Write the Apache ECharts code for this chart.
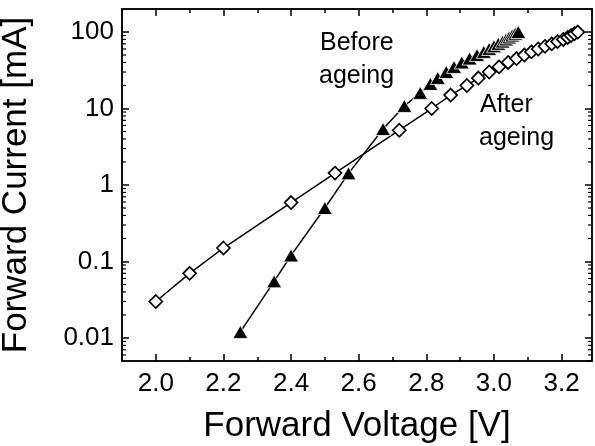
<!DOCTYPE html>
<html>
<head>
<meta charset="utf-8">
<script src="https://cdn.jsdelivr.net/npm/echarts@6/dist/echarts.min.js"></script>
<style>
  html, body { margin: 0; padding: 0; background: #fff; }
  #chart { width: 595px; height: 446px; }
</style>
</head>
<body>
<div id="chart"></div>
<script>
// Forward I-V characteristics of the LED before and after ageing
var beforeVoltage = [2.25, 2.35, 2.40, 2.50, 2.57, 2.672, 2.735, 2.782, 2.812, 2.834, 2.859, 2.882, 2.905, 2.928, 2.950, 2.970, 2.986, 3.000, 3.013, 3.026, 3.036, 3.045, 3.054, 3.063, 3.072];
var beforeCurrent = [0.012, 0.055, 0.12, 0.5, 1.42, 5.4, 10.8, 16, 21, 25, 30, 35, 40, 45, 50, 55, 60, 65, 70, 75, 80, 85, 90, 95, 100];

var afterVoltage = [2.0, 2.1, 2.2, 2.4, 2.53, 2.72, 2.816, 2.872, 2.920, 2.954, 2.986, 3.015, 3.042, 3.067, 3.090, 3.111, 3.131, 3.151, 3.171, 3.188, 3.205, 3.218, 3.228, 3.238, 3.248];
var afterCurrent = [0.03, 0.07, 0.15, 0.59, 1.43, 5.2, 10, 15, 20, 25, 30, 35, 40, 45, 50, 55, 60, 65, 70, 75, 80, 85, 90, 95, 100];

// Axis ranges
var X_MIN = 1.9, X_MAX = 3.29;
var Y_MIN = 0.005, Y_MAX = 200;

// Log-axis minor tick positions (2..9 within each decade)
var yMinorTicks = [0.006, 0.007, 0.008, 0.009,
  0.02, 0.03, 0.04, 0.05, 0.06, 0.07, 0.08, 0.09,
  0.2, 0.3, 0.4, 0.5, 0.6, 0.7, 0.8, 0.9,
  2, 3, 4, 5, 6, 7, 8, 9,
  20, 30, 40, 50, 60, 70, 80, 90];

var FONT = '"Liberation Sans", Arial, Helvetica, sans-serif';

function pairs(xs, ys) {
  return xs.map(function (x, i) { return [x, ys[i]]; });
}

var chart = echarts.init(document.getElementById('chart'), null, { renderer: 'canvas' });

var lineStyleAxis = { color: '#000', width: 1.5 };

function xAxisBase(extra) {
  return Object.assign({
    type: 'value',
    min: X_MIN,
    max: X_MAX,
    splitLine: { show: false },
    axisLine: { show: true, onZero: false, lineStyle: lineStyleAxis },
    axisLabel: { show: false }
  }, extra);
}

function yAxisBase(extra) {
  return Object.assign({
    type: 'log',
    logBase: 10,
    min: Y_MIN,
    max: Y_MAX,
    splitLine: { show: false },
    axisLine: { show: true, onZero: false, lineStyle: lineStyleAxis },
    axisLabel: { show: false }
  }, extra);
}

var option = {
  animation: false,
  backgroundColor: '#fff',
  textStyle: { fontFamily: FONT },
  grid: {
    left: 122, right: 3, top: 9, bottom: 85,
    outerBoundsMode: 'none',
    show: true, borderColor: '#000', borderWidth: 1.5, containLabel: false
  },
  xAxis: [
    // bottom axis with labels and major ticks
    xAxisBase({
      position: 'bottom',
      splitNumber: 7,
      name: 'Forward Voltage [V]',
      nameLocation: 'middle',
      nameGap: 48,
      nameTextStyle: { fontSize: 35, color: '#000', fontFamily: FONT },
      axisTick: { show: true, inside: true, length: 7, lineStyle: { color: '#000', width: 1.5 } },
      axisLabel: {
        show: true, margin: 10, fontSize: 26, color: '#000', fontFamily: FONT,
        showMinLabel: false, showMaxLabel: false,
        formatter: function (v) { return v.toFixed(1); }
      }
    }),
    // bottom minor ticks
    xAxisBase({
      position: 'bottom', splitNumber: 14,
      axisLine: { show: false },
      axisTick: { show: true, inside: true, length: 4, lineStyle: { color: '#000', width: 1.5 } }
    }),
    // top mirror, major ticks
    xAxisBase({
      position: 'top', splitNumber: 7,
      axisTick: { show: true, inside: true, length: 7, lineStyle: { color: '#000', width: 1.5 } }
    }),
    // top mirror, minor ticks
    xAxisBase({
      position: 'top', splitNumber: 14,
      axisLine: { show: false },
      axisTick: { show: true, inside: true, length: 4, lineStyle: { color: '#000', width: 1.5 } }
    })
  ],
  yAxis: [
    yAxisBase({
      position: 'left',
      name: 'Forward Current [mA]',
      nameLocation: 'middle',
      nameGap: 88,
      nameTextStyle: { fontSize: 35, color: '#000', fontFamily: FONT },
      axisTick: { show: true, inside: true, length: 7, lineStyle: { color: '#000', width: 1.5 } },
      axisLabel: {
        show: true, margin: 8, fontSize: 26, color: '#000', fontFamily: FONT,
        showMinLabel: false, showMaxLabel: false,
        formatter: function (v) { return String(+Number(v).toPrecision(6)); }
      }
    }),
    yAxisBase({
      position: 'right',
      axisTick: { show: true, inside: true, length: 7, lineStyle: { color: '#000', width: 1.5 } }
    })
  ],
  series: [
    {
      // minor ticks of the log axis on both sides of the frame
      type: 'custom',
      silent: true,
      clip: false,
      z: 1,
      data: yMinorTicks.map(function (v) { return [X_MIN, v]; }),
      renderItem: function (params, api) {
        var v = api.value(1);
        var l = api.coord([X_MIN, v]);
        var r = api.coord([X_MAX, v]);
        var st = { stroke: '#000', lineWidth: 1.2 };
        return {
          type: 'group',
          children: [
            { type: 'line', shape: { x1: l[0], y1: l[1], x2: l[0] + 4, y2: l[1] }, style: st },
            { type: 'line', shape: { x1: r[0], y1: r[1], x2: r[0] - 4, y2: r[1] }, style: st }
          ]
        };
      }
    },
    {
      name: 'After ageing',
      type: 'line',
      data: pairs(afterVoltage, afterCurrent),
      symbol: 'diamond',
      symbolSize: 13,
      showAllSymbol: true,
      lineStyle: { color: '#000', width: 1.5 },
      itemStyle: { color: '#fff', borderColor: '#000', borderWidth: 1.7 },
      z: 3
    },
    {
      name: 'Before ageing',
      type: 'line',
      data: pairs(beforeVoltage, beforeCurrent),
      symbol: 'triangle',
      symbolSize: [15, 13],
      showAllSymbol: true,
      lineStyle: { color: '#000', width: 1.5 },
      itemStyle: { color: '#000', borderColor: '#fff', borderWidth: 0.8 },
      z: 4
    }
  ],
  graphic: [
    { type: 'text', left: 320, top: 31, style: { text: 'Before', font: '25px ' + FONT, fill: '#000' } },
    { type: 'text', left: 319, top: 64, style: { text: 'ageing', font: '25px ' + FONT, fill: '#000' } },
    { type: 'text', left: 480, top: 93, style: { text: 'After', font: '25px ' + FONT, fill: '#000' } },
    { type: 'text', left: 479, top: 126, style: { text: 'ageing', font: '25px ' + FONT, fill: '#000' } }
  ]
};

chart.setOption(option);
</script>
</body>
</html>
